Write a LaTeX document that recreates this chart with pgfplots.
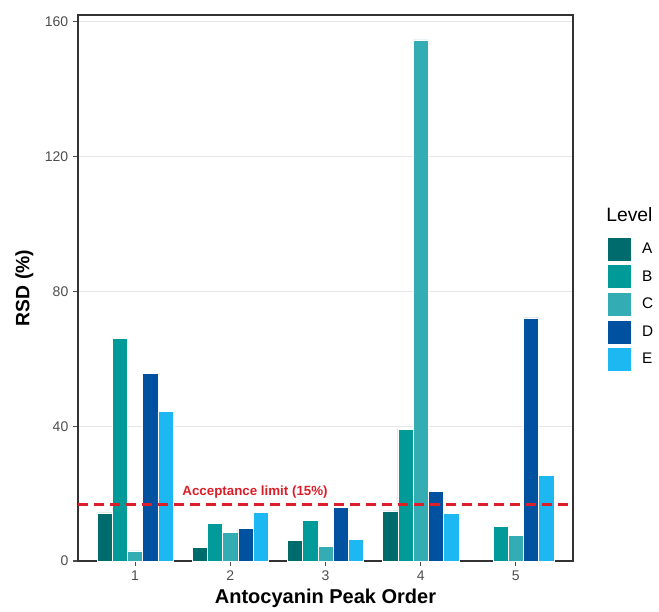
\documentclass[border=0pt]{standalone}
\usepackage{pgfplots}
\pgfplotsset{compat=1.18}
\usepackage{fontspec}
\setmainfont{Liberation Sans}
\definecolor{cA}{HTML}{006B6D}
\definecolor{cB}{HTML}{009A98}
\definecolor{cC}{HTML}{33ACB3}
\definecolor{cD}{HTML}{0051A0}
\definecolor{cE}{HTML}{1DB7F2}
\definecolor{tickgray}{HTML}{4D4D4D}
\definecolor{gridgray}{HTML}{E6E6E6}
\definecolor{limred}{RGB}{220,30,40}
\begin{document}
\begin{tikzpicture}
\useasboundingbox (-58.5pt,-37.5pt) rectangle (435.75pt,420.75pt);
\begin{axis}[
  at={(0,0)}, anchor=south west,
  scale only axis,
  width=371.25pt, height=409.5pt,
  clip=false,
  xmin=0.4, xmax=5.6, ymin=0, ymax=162,
  xtick={1,2,3,4,5},
  ytick={0,40,80,120,160},
  ymajorgrids, major grid style={gridgray, line width=1pt},
  axis line style={black!80, line width=0.8pt},
  tick style={tickgray, line width=0.8pt},
  tick align=outside, major tick length=3.75pt,
  xtick pos=bottom, ytick pos=left,
  ticklabel style={font=\fontsize{10.5}{12}\selectfont, text=tickgray},
  /pgf/number format/assume math mode=true,
  xlabel={\textbf{Antocyanin Peak Order}},
  ylabel={\textbf{RSD (\%)}},
  every axis x label/.style={at={([yshift=-32pt]rel axis cs:0.5,0)}, anchor=base, font=\fontsize{15}{17}\selectfont},
  every axis y label/.style={at={([xshift=-36.5pt]rel axis cs:0,0.5)}, rotate=90, anchor=base, font=\fontsize{14.5}{17}\selectfont},
  ybar, bar width=0.16, bar shift=0pt,
  legend style={at={(rel axis cs:1.068,0.594)}, anchor=north west, draw=none, fill=none,
    inner sep=0pt, nodes={inner sep=0pt},
    font=\fontsize{11.5}{13}\selectfont, row sep=2.25pt,
    /tikz/every odd column/.append style={column sep=8pt}},
  legend cell align=left,
  legend image code/.code={\fill[#1] (0pt,-9pt) rectangle (18pt,9pt);},
]
\addplot[fill=cA, draw=white, line width=0.4pt] coordinates {(0.68,14.3) (1.68,4.1) (2.68,6.2) (3.68,14.9)};
\addlegendentry{A}
\addplot[fill=cB, draw=white, line width=0.4pt] coordinates {(0.84,66.1) (1.84,11.2) (2.84,12.0) (3.84,39.1) (4.84,10.2)};
\addlegendentry{B}
\addplot[fill=cC, draw=white, line width=0.4pt] coordinates {(1.0,3.0) (2.0,8.4) (3.0,4.3) (4.0,154.6) (5.0,7.6)};
\addlegendentry{C}
\addplot[fill=cD, draw=white, line width=0.4pt] coordinates {(1.16,55.7) (2.16,9.7) (3.16,15.8) (4.16,20.6) (5.16,72.1)};
\addlegendentry{D}
\addplot[fill=cE, draw=white, line width=0.4pt] coordinates {(1.32,44.5) (2.32,14.4) (3.32,6.4) (4.32,14.2) (5.32,25.5)};
\addlegendentry{E}
\addplot[sharp plot, forget plot, draw=limred, line width=1.7pt, dash pattern=on 7.5pt off 4.5pt] coordinates {(0.4,16.8) (5.6,16.8)};
\node[anchor=base, font=\fontsize{10}{12}\selectfont\bfseries, text=limred] at (axis cs:2.26,19.4) {Acceptance limit (15\%)};
\node[anchor=base west, font=\fontsize{14.5}{16}\selectfont, inner sep=0pt] at (rel axis cs:1.0667,0.6214) {Level};
\end{axis}
\end{tikzpicture}
\end{document}
